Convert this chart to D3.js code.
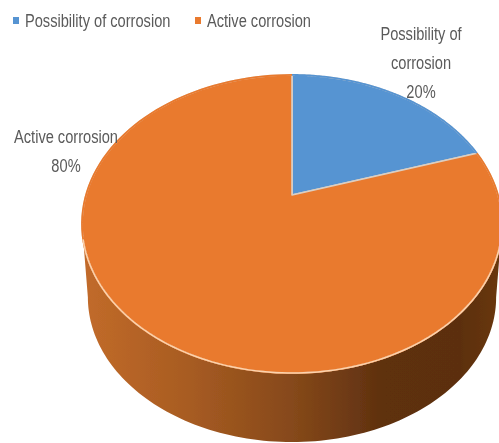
<!DOCTYPE html>
<html><head><meta charset="utf-8">
<script src="https://cdn.jsdelivr.net/npm/d3@7"></script>
<style>html,body{margin:0;padding:0;background:#fff;overflow:hidden}svg{display:block}
text{font-family:"Liberation Sans",sans-serif;fill:#5a5a5a}</style>
</head><body><svg id="c" width="499" height="443"></svg>
<script>
const categories=["Possibility of corrosion","Active corrosion"];
const values=[20,80];
const colors=["#5794d2","#e97a2f"];
const labelLines=[["Possibility of","corrosion","20%"],["Active corrosion","80%"]];

const svg=d3.select("#c");
const defs=svg.append("defs");
const grad=defs.append("linearGradient").attr("id","side").attr("x1",0).attr("x2",1).attr("y1",0).attr("y2",0);
[[0,"#c26b2a"],[0.25,"#a85c22"],[0.5,"#86491a"],[0.72,"#5e300f"],[0.9,"#5c2f0e"],[1,"#6a3811"]]
  .forEach(s=>grad.append("stop").attr("offset",s[0]).attr("stop-color",s[1]));
defs.append("filter").attr("id","soft").attr("x","-5%").attr("y","-20%").attr("width","110%").attr("height","140%")
  .append("feGaussianBlur").attr("stdDeviation",0.6);
defs.append("filter").attr("id","softer").attr("x","-5%").attr("y","-5%").attr("width","110%").attr("height","110%")
  .append("feGaussianBlur").attr("stdDeviation",0.7);

// perspective disc projection: angle runs clockwise from 12 o'clock
const cx=292,cy=195,kx=206,ky=143.4,b=0.1946;
const project=(a,s=1,dy=0)=>{
  const u=Math.sin(a),v=-Math.cos(a),d=1-b*v;
  return [cx+s*kx*u/d,cy+dy+s*ky*v/d];
};
const line=d3.line();
const ring=(a0,a1,s,dy)=>d3.range(0,121).map(i=>project(a0+(a1-a0)*i/120,s,dy));

const g=svg.append("g").attr("filter","url(#softer)");
// side wall between the two tangent angles of the perspective ellipse
const tanR=Math.acos(-b),tanL=2*Math.PI-tanR;
const sideS=0.972,sideDy=74;
const sideTop=ring(tanR,tanL,1,0);
const sideBot=ring(tanL,tanR,sideS,sideDy);
g.append("path").attr("d",line(sideTop.concat(sideBot))+"Z").attr("fill","url(#side)");

const pie=d3.pie().sort(null).value(d=>d)(values);
g.selectAll("path.slice").data(pie).join("path").attr("class","slice")
  .attr("d",d=>line([[cx,cy],...ring(d.startAngle,d.endAngle,1,0)])+"Z")
  .attr("fill",(d,i)=>colors[i])
  .attr("stroke","#dccfc2").attr("stroke-width",1.6).attr("stroke-linejoin","round");
// outer edge in slice colour over the light stroke
g.selectAll("path.edge").data(pie).join("path").attr("class","edge")
  .attr("d",d=>line(ring(d.startAngle,d.endAngle,1,0)))
  .attr("fill","none").attr("stroke",(d,i)=>colors[i]).attr("stroke-width",1.8);
// bright front rim
g.append("path").attr("d",line(ring(tanR+0.05,tanL-0.1,1,0)))
  .attr("fill","none").attr("stroke","#fbd3ae").attr("stroke-width",1.5);

const t=svg.append("g").attr("filter","url(#soft)");
const narrow=0.77;
const put=(x,y,s,anchor)=>t.append("text")
  .attr("transform",`translate(${x},${y}) scale(${narrow},1)`)
  .attr("text-anchor",anchor).attr("font-size",19).text(s);
const legendX=[13,195];
categories.forEach((c,i)=>{
  t.append("rect").attr("x",legendX[i]).attr("y",17).attr("width",6).attr("height",7).attr("fill",colors[i]);
  put(legendX[i]+12,27,c,"start");
});
const labelPos=[[421,40],[66,143]];
labelLines.forEach((ls,i)=>ls.forEach((s,j)=>put(labelPos[i][0],labelPos[i][1]+j*29,s,"middle")));
</script></body></html>
